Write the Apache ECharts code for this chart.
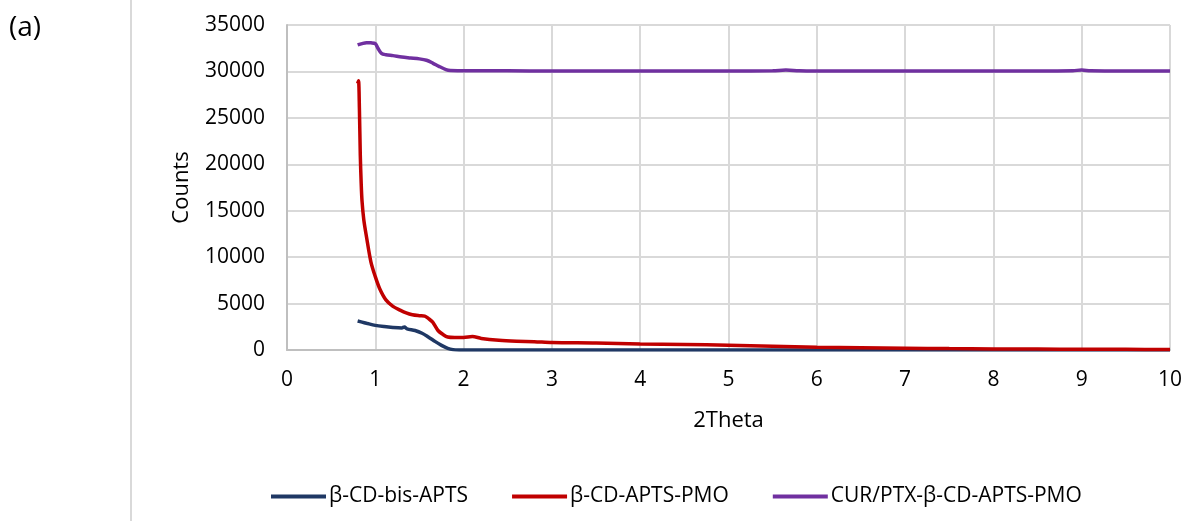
<!DOCTYPE html>
<html>
<head>
<meta charset="utf-8">
<script src="https://cdn.jsdelivr.net/npm/echarts@6/dist/echarts.min.js"></script>
<style>
html,body{margin:0;padding:0;background:#fff;}
#chart{width:1199px;height:521px;}
</style>
</head>
<body>
<div id="chart"></div>
<script>
const seriesNames = ['β-CD-bis-APTS', 'β-CD-APTS-PMO', 'CUR/PTX-β-CD-APTS-PMO'];
const xTicks = [0, 1, 2, 3, 4, 5, 6, 7, 8, 9, 10];
const yTicks = [0, 5000, 10000, 15000, 20000, 25000, 30000, 35000];

const blueX = [0.8, 0.85, 0.9, 1.0, 1.1, 1.2, 1.3, 1.33, 1.36, 1.45, 1.53, 1.6, 1.68, 1.75, 1.82, 1.88, 1.95, 2.5, 3, 4, 5, 6, 7, 8, 9, 10];
const blueY = [3120, 3000, 2880, 2650, 2520, 2430, 2380, 2480, 2280, 2100, 1800, 1400, 900, 500, 180, 40, 10, 5, 5, 5, 5, 5, 5, 5, 5, 5];

const redX = [0.8, 0.81, 0.82, 0.83, 0.84, 0.85, 0.87, 0.9, 0.95, 1.0, 1.05, 1.12, 1.2, 1.28, 1.35, 1.42, 1.5, 1.56, 1.6, 1.65, 1.71, 1.77, 1.82, 1.9, 2.0, 2.1, 2.2, 2.4, 2.6, 2.8, 3.0, 3.5, 4, 4.5, 5, 5.5, 6, 6.5, 7, 7.5, 8, 8.5, 9, 9.5, 10];
const redY = [28700, 29000, 26000, 21000, 18000, 16000, 14000, 12200, 9500, 7900, 6600, 5400, 4700, 4300, 4000, 3800, 3700, 3650, 3400, 3000, 2100, 1650, 1400, 1350, 1350, 1450, 1250, 1050, 950, 900, 800, 750, 650, 600, 500, 400, 300, 250, 200, 150, 120, 100, 80, 70, 60];

const purpleX = [0.8, 0.85, 0.9, 0.95, 1.0, 1.03, 1.07, 1.12, 1.2, 1.3, 1.4, 1.5, 1.58, 1.65, 1.72, 1.8, 1.85, 2, 2.5, 3, 3.5, 4, 4.5, 5, 5.5, 5.65, 5.8, 6, 6.5, 7, 7.5, 8, 8.5, 8.9, 9, 9.1, 9.5, 10];
const purpleY = [32850, 33000, 33100, 33080, 33000, 32500, 31950, 31800, 31700, 31550, 31450, 31350, 31200, 30900, 30550, 30200, 30100, 30080, 30060, 30050, 30050, 30050, 30050, 30050, 30060, 30150, 30070, 30050, 30050, 30050, 30050, 30050, 30050, 30080, 30150, 30070, 30050, 30050];

const colors = ['#1f3864', '#c00000', '#7030a0'];
const pairs = (xs, ys) => xs.map((x, i) => [x, ys[i]]);
const FONT = '"Open Sans", "Noto Sans", sans-serif';

const chart = echarts.init(document.getElementById('chart'), null, {renderer: 'canvas'});
chart.setOption({
  animation: false,
  backgroundColor: '#ffffff',
  color: colors,
  textStyle: {fontFamily: FONT, color: '#000'},
  grid: {left: 287, right: 29, top: 25, bottom: 171, containLabel: false},
  graphic: [
    {type: 'line', shape: {x1: 131, y1: 0, x2: 131, y2: 521}, style: {stroke: '#d9d9d9', lineWidth: 2}},
    {type: 'text', left: 9, top: 14, style: {text: '(a)', font: '28px ' + FONT, fill: '#000'}}
  ],
  legend: {
    left: 266, top: 481,
    itemWidth: 55, itemHeight: 4, itemGap: 44,
    icon: 'rect',
    textStyle: {fontFamily: FONT, fontSize: 21, color: '#000', padding: [0, 0, 0, -2]},
    data: seriesNames
  },
  xAxis: {
    type: 'value', min: xTicks[0], max: xTicks[xTicks.length - 1], interval: 1,
    name: '2Theta', nameLocation: 'middle', nameGap: 60,
    nameTextStyle: {fontFamily: FONT, fontSize: 22, color: '#000'},
    axisLine: {show: true, lineStyle: {color: '#bfbfbf', width: 2}},
    axisTick: {show: false},
    axisLabel: {fontFamily: FONT, fontSize: 21, color: '#000', margin: 20},
    splitLine: {show: true, lineStyle: {color: '#d9d9d9', width: 2}}
  },
  yAxis: {
    type: 'value', min: yTicks[0], max: yTicks[yTicks.length - 1], interval: 5000,
    name: 'Counts', nameLocation: 'middle', nameGap: 94, nameRotate: 90,
    nameTextStyle: {fontFamily: FONT, fontSize: 22, color: '#000'},
    axisLine: {show: true, lineStyle: {color: '#bfbfbf', width: 2}},
    axisTick: {show: false},
    axisLabel: {fontFamily: FONT, fontSize: 21, color: '#000', margin: 22, formatter: v => String(v)},
    splitLine: {show: true, lineStyle: {color: '#d9d9d9', width: 2}}
  },
  series: [
    {name: seriesNames[0], type: 'line', data: pairs(blueX, blueY), showSymbol: false, smooth: 0.3, lineStyle: {width: 3.5, color: colors[0]}, z: 3},
    {name: seriesNames[1], type: 'line', data: pairs(redX, redY), showSymbol: false, smooth: 0.3, lineStyle: {width: 3.5, color: colors[1]}, z: 4},
    {name: seriesNames[2], type: 'line', data: pairs(purpleX, purpleY), showSymbol: false, smooth: 0.3, lineStyle: {width: 3.5, color: colors[2]}, z: 5}
  ]
});
</script>
</body>
</html>
